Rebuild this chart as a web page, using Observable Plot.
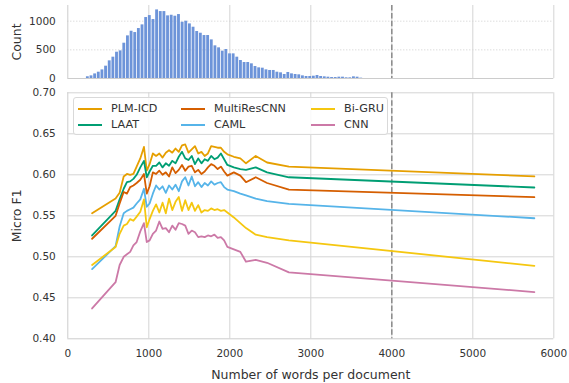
<!DOCTYPE html>
<html><head><meta charset="utf-8">
<script src="https://cdn.jsdelivr.net/npm/d3@7"></script>
<script src="https://cdn.jsdelivr.net/npm/@observablehq/plot@0.6"></script>
<style>
body{margin:0;background:#fff;font-family:"DejaVu Sans",sans-serif;}
#chart{position:relative;width:569px;height:383px;overflow:hidden;background:#fff;}
#top{position:absolute;left:0;top:0;}
#bottom{position:absolute;left:0;top:85px;}
#legend{position:absolute;left:73px;top:97px;width:315px;height:38px;background:rgba(255,255,255,0.85);border:1px solid #d9d9d9;border-radius:3px;box-sizing:border-box;font-size:11.2px;color:#333;}
#legend .item{position:absolute;height:14px;line-height:14px;white-space:nowrap;}
#legend .sw{position:absolute;left:0;top:6px;width:24px;height:2px;}
#legend .lb{position:absolute;left:33px;top:0;}
[aria-label="y-axis label"], [aria-label="x-axis label"]{font-size:12.5px;}
</style></head><body>
<div id="chart"><div id="top"></div><div id="bottom"></div><div id="legend"></div></div>
<script>
// ---------- data ----------
const histBinStart = 225;
const histBinWidth = 45;
const histCounts = [30, 46, 80, 110, 150, 215, 308, 372, 459, 482, 616, 744, 825, 802, 872, 936, 1064, 1098, 1029, 1197, 1168, 1168, 1093, 1104, 1087, 1116, 982, 1000, 953, 895, 820, 790, 750, 750, 674, 570, 535, 477, 506, 430, 430, 372, 314, 279, 279, 256, 209, 186, 180, 151, 140, 140, 110, 99, 70, 105, 81, 70, 64, 46, 35, 35, 40, 52, 35, 29, 23, 17, 17, 23, 23, 12, 12, 29, 23, 6];

const wordCounts = [300, 590, 640, 690, 730, 770, 810, 850, 895, 940, 975, 1010, 1050, 1090, 1130, 1170, 1210, 1250, 1290, 1330, 1370, 1410, 1450, 1490, 1530, 1570, 1610, 1650, 1690, 1730, 1770, 1810, 1850, 1890, 1930, 1970, 2050, 2130, 2200, 2320, 2460, 2730, 5760];

const modelNames = ["PLM-ICD", "LAAT", "MultiResCNN", "CAML", "Bi-GRU", "CNN"];
const modelColors = ["#E69F00", "#009E73", "#D55E00", "#56B4E9", "#F5C710", "#CC79A7"];

const plmIcd = [0.553, 0.571, 0.578, 0.598, 0.601, 0.600, 0.601, 0.610, 0.620, 0.634, 0.605, 0.613, 0.626, 0.623, 0.626, 0.621, 0.627, 0.630, 0.627, 0.632, 0.628, 0.636, 0.637, 0.627, 0.631, 0.635, 0.626, 0.628, 0.623, 0.626, 0.635, 0.634, 0.633, 0.633, 0.628, 0.625, 0.622, 0.620, 0.614, 0.623, 0.615, 0.610, 0.598];
const laat = [0.526, 0.556, 0.570, 0.583, 0.591, 0.592, 0.595, 0.600, 0.609, 0.617, 0.597, 0.604, 0.611, 0.611, 0.615, 0.609, 0.614, 0.611, 0.617, 0.614, 0.622, 0.628, 0.620, 0.618, 0.623, 0.613, 0.620, 0.614, 0.619, 0.617, 0.623, 0.619, 0.621, 0.626, 0.619, 0.612, 0.609, 0.607, 0.606, 0.609, 0.603, 0.597, 0.5845];
const multiResCnn = [0.522, 0.550, 0.565, 0.579, 0.577, 0.585, 0.587, 0.590, 0.594, 0.601, 0.577, 0.586, 0.603, 0.601, 0.605, 0.600, 0.603, 0.598, 0.609, 0.602, 0.606, 0.612, 0.605, 0.610, 0.611, 0.603, 0.606, 0.601, 0.604, 0.609, 0.613, 0.611, 0.607, 0.610, 0.604, 0.599, 0.603, 0.599, 0.591, 0.597, 0.590, 0.582, 0.5727];
const caml = [0.485, 0.513, 0.537, 0.553, 0.556, 0.558, 0.560, 0.565, 0.570, 0.583, 0.561, 0.565, 0.577, 0.587, 0.582, 0.586, 0.578, 0.587, 0.582, 0.588, 0.580, 0.592, 0.597, 0.587, 0.598, 0.586, 0.591, 0.585, 0.590, 0.587, 0.592, 0.588, 0.590, 0.591, 0.585, 0.582, 0.580, 0.577, 0.575, 0.571, 0.568, 0.5646, 0.547];
const biGru = [0.490, 0.512, 0.528, 0.538, 0.540, 0.546, 0.544, 0.549, 0.555, 0.570, 0.536, 0.546, 0.556, 0.564, 0.554, 0.566, 0.553, 0.571, 0.557, 0.567, 0.573, 0.556, 0.569, 0.557, 0.566, 0.556, 0.563, 0.554, 0.557, 0.556, 0.559, 0.557, 0.558, 0.556, 0.557, 0.554, 0.548, 0.541, 0.535, 0.527, 0.524, 0.520, 0.489];
const cnn = [0.437, 0.469, 0.490, 0.500, 0.503, 0.506, 0.514, 0.518, 0.531, 0.541, 0.518, 0.520, 0.528, 0.532, 0.543, 0.534, 0.535, 0.530, 0.538, 0.533, 0.541, 0.540, 0.538, 0.528, 0.532, 0.530, 0.524, 0.525, 0.524, 0.526, 0.525, 0.527, 0.523, 0.524, 0.520, 0.512, 0.509, 0.506, 0.494, 0.4963, 0.4927, 0.481, 0.457];

const xTicks = [0, 1000, 2000, 3000, 4000, 5000, 6000];
const f1Ticks = [0.40, 0.45, 0.50, 0.55, 0.60, 0.65, 0.70];
const countTicks = [0, 500, 1000];
const thresholdWords = 4000;

// ---------- build ----------
const series = [plmIcd, laat, multiResCnn, caml, biGru, cnn];
const rows = [];
series.forEach((vals, k) => vals.forEach((v, i) => rows.push({model: modelNames[k], words: wordCounts[i], f1: v})));
const hist = histCounts.map((c, i) => ({x1: histBinStart + i * histBinWidth, x2: histBinStart + (i + 1) * histBinWidth, count: c}));

const gridColor = "#d4d4d4";
const textColor = "#333";
const common = {width: 569, marginLeft: 67.3, marginRight: 15.7,
  style: {fontFamily: "'DejaVu Sans'", fontSize: "10.5px", color: textColor, background: "transparent", overflow: "visible"}};

const topPlot = Plot.plot({
  ...common, height: 85, marginTop: 5, marginBottom: 7,
  x: {domain: [0, 6000], axis: null},
  y: {domain: [0, 1274], axis: null},
  marks: [
    Plot.ruleY(countTicks.filter(d => d > 0), {stroke: "#c8c8c8", strokeDasharray: "1,2", strokeWidth: 0.9}),
    Plot.ruleX(xTicks.filter(d => d > 0), {stroke: gridColor, strokeWidth: 1}),
    Plot.rectY(hist, {x1: "x1", x2: "x2", y: "count", fill: "#6d94d9", insetLeft: 0.4, insetRight: 0.4}),
    Plot.ruleX([thresholdWords], {stroke: "#8a8a8a", strokeWidth: 1.5, strokeDasharray: "5.5,2.4"}),
    Plot.ruleX([0], {stroke: "#cccccc", strokeWidth: 1}),
    Plot.ruleY([0], {stroke: "#cccccc", strokeWidth: 1}),
    Plot.axisY(countTicks, {tickSize: 0, tickPadding: 12, tickFormat: d => String(d), label: "Count", labelAnchor: "center", labelArrow: "none", labelOffset: 56})
  ]
});
document.getElementById("top").appendChild(topPlot);

const bottomPlot = Plot.plot({
  ...common, height: 298, marginTop: 7.3, marginBottom: 44.7,
  x: {domain: [0, 6000]},
  y: {domain: [0.4, 0.7]},
  color: {domain: modelNames, range: modelColors},
  marks: [
    Plot.ruleX(xTicks.filter(d => d > 0), {stroke: gridColor, strokeWidth: 1}),
    Plot.ruleY(f1Ticks.filter(d => d > 0.4), {stroke: gridColor, strokeWidth: 1}),
    Plot.ruleX([0], {stroke: "#cccccc", strokeWidth: 1}),
    Plot.ruleY([0.4], {stroke: "#cccccc", strokeWidth: 1}),
    Plot.ruleX([thresholdWords], {stroke: "#8a8a8a", strokeWidth: 1.5, strokeDasharray: "5.5,2.4"}),
    Plot.line(rows, {x: "words", y: "f1", z: "model", stroke: "model", strokeWidth: 1.8, strokeLinejoin: "round"}),
    Plot.axisX(xTicks, {tickSize: 0, tickPadding: 11, tickFormat: d => String(d), label: "Number of words per document", labelAnchor: "center", labelArrow: "none", labelOffset: 40}),
    Plot.axisY(f1Ticks, {tickSize: 0, tickPadding: 12, tickFormat: d3.format(".2f"), label: "Micro F1", labelAnchor: "center", labelArrow: "none", labelOffset: 56})
  ]
});
document.getElementById("bottom").appendChild(bottomPlot);

// legend (3 columns, filled column-wise)
const legend = document.getElementById("legend");
const colX = [4, 107, 237];
const rowY = [4, 20];
modelNames.forEach((name, i) => {
  const item = document.createElement("div");
  item.className = "item";
  item.style.left = colX[Math.floor(i / 2)] + "px";
  item.style.top = rowY[i % 2] + "px";
  const sw = document.createElement("div");
  sw.className = "sw"; sw.style.background = modelColors[i];
  const lb = document.createElement("div");
  lb.className = "lb"; lb.textContent = name;
  item.appendChild(sw); item.appendChild(lb);
  legend.appendChild(item);
});
</script>
</body></html>
